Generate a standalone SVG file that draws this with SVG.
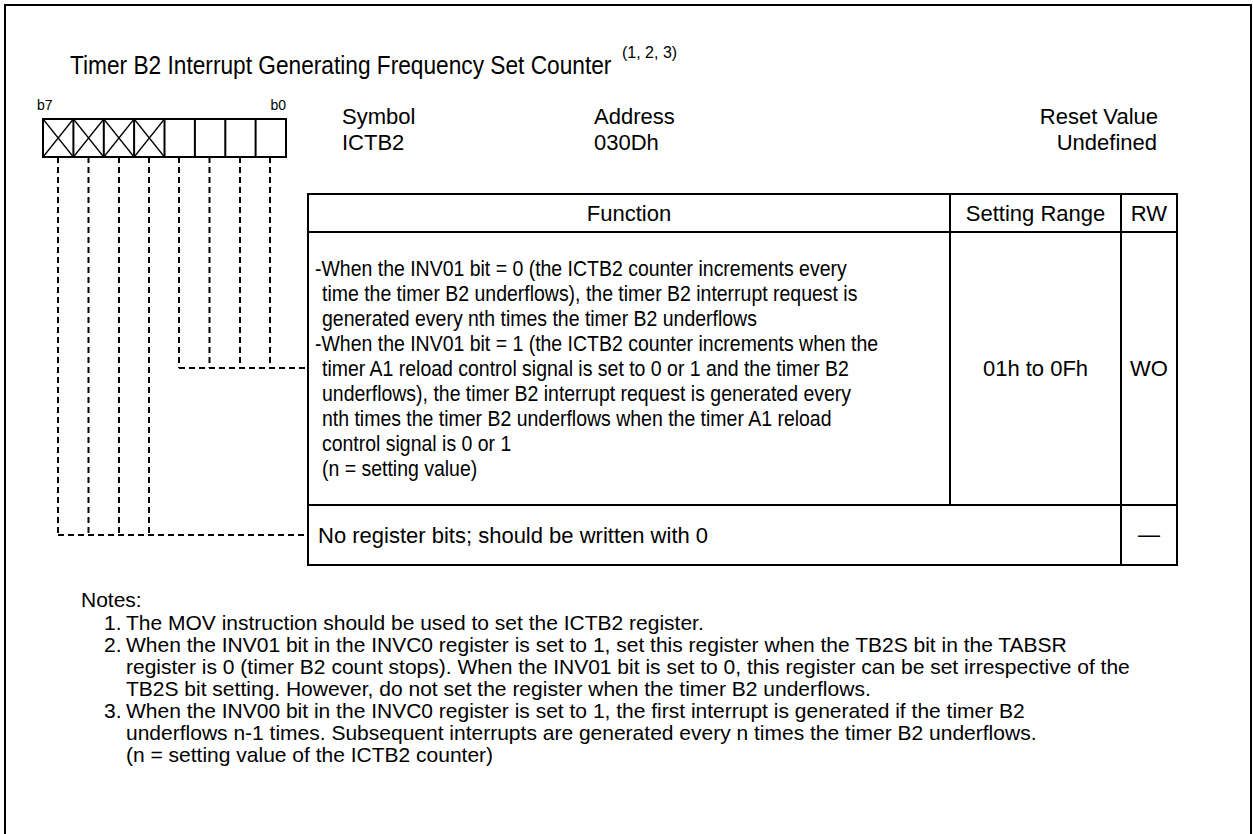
<svg xmlns="http://www.w3.org/2000/svg" width="1253" height="834" viewBox="0 0 1253 834">
<style>
text{font-family:"Liberation Sans",Arial,sans-serif;fill:#000}
.t{font-size:22px}
.n{font-size:21px}
.s{font-size:14px}
.ti{font-size:22.7px}
.m{text-anchor:middle}
.e{text-anchor:end}
.ln{stroke:#000;stroke-width:2;fill:none}
.d{stroke:#000;stroke-width:2;fill:none;stroke-dasharray:6 4}
</style>
<rect x="5" y="5" width="1246" height="840" fill="#fff" stroke="#000" stroke-width="2"/>
<g id="title">
<text class="ti" transform="translate(70 74) scale(1 1.14)" x="0" y="0">Timer B2 Interrupt Generating Frequency Set Counter</text>
<text x="622" y="58" style="font-size:16px">(1, 2, 3)</text>
</g>
<g id="bits">
<text class="s" x="37" y="110">b7</text>
<text class="s e" x="286" y="110">b0</text>
<rect class="ln" x="43" y="119" width="243" height="38"/>
<path class="ln" d="M73.4 119V157M103.8 119V157M134.1 119V157M164.5 119V157M194.9 119V157M225.3 119V157M255.6 119V157"/>
<path stroke="#000" stroke-width="1.3" fill="none" d="M43 119L73.4 157M73.4 119L43 157M73.4 119L103.8 157M103.8 119L73.4 157M103.8 119L134.1 157M134.1 119L103.8 157M134.1 119L164.5 157M164.5 119L134.1 157"/>
</g>
<g id="info">
<text class="t" x="342" y="124">Symbol</text>
<text class="t" x="342" y="150">ICTB2</text>
<text class="t" x="594" y="124">Address</text>
<text class="t" x="594" y="150">030Dh</text>
<text class="t e" x="1158" y="124">Reset Value</text>
<text class="t e" x="1157" y="150">Undefined</text>
</g>
<g id="connectors">
<path class="d" d="M179 157V368M209.5 157V368M240 157V368M270 157V368M179 368H308"/>
<path class="d" d="M58 157V535M88.5 157V535M119 157V535M149 157V535M58 535H308"/>
</g>
<g id="table">
<rect class="ln" x="308" y="194" width="869" height="371"/>
<path class="ln" d="M308 232H1177M308 505H1177M950 194V505M1121 194V565"/>
<text class="t m" x="629" y="221">Function</text>
<text class="t m" x="1035.5" y="221">Setting Range</text>
<text class="t m" x="1149" y="221">RW</text>
</g>
<g id="row-function">
<g transform="translate(315 0) scale(0.885 1)">
<text class="t" x="0" y="276">-When the INV01 bit = 0 (the ICTB2 counter increments every</text>
<text class="t" x="7.9" y="301">time the timer B2 underflows), the timer B2 interrupt request is</text>
<text class="t" x="7.9" y="326">generated every nth times the timer B2 underflows</text>
<text class="t" x="0" y="351">-When the INV01 bit = 1 (the ICTB2 counter increments when the</text>
<text class="t" x="7.9" y="376">timer A1 reload control signal is set to 0 or 1 and the timer B2</text>
<text class="t" x="7.9" y="401">underflows), the timer B2 interrupt request is generated every</text>
<text class="t" x="7.9" y="426">nth times the timer B2 underflows when the timer A1 reload</text>
<text class="t" x="7.9" y="451">control signal is 0 or 1</text>
<text class="t" x="7.9" y="476">(n = setting value)</text>
</g>
<text class="t m" x="1035.5" y="376">01h to 0Fh</text>
<text class="t m" x="1149" y="376">WO</text>
</g>
<g id="row-reserved">
<text class="t" x="318" y="543">No register bits; should be written with 0</text>
<text class="t m" x="1149" y="542">—</text>
</g>
<g id="notes">
<text class="n" x="81" y="607">Notes:</text>
<text class="n" x="104" y="630">1.</text>
<text class="n" x="126" y="630">The MOV instruction should be used to set the ICTB2 register.</text>
<text class="n" x="104" y="652">2.</text>
<text class="n" x="126" y="652">When the INV01 bit in the INVC0 register is set to 1, set this register when the TB2S bit in the TABSR</text>
<text class="n" x="126" y="674">register is 0 (timer B2 count stops). When the INV01 bit is set to 0, this register can be set irrespective of the</text>
<text class="n" x="126" y="696">TB2S bit setting. However, do not set the register when the timer B2 underflows.</text>
<text class="n" x="104" y="718">3.</text>
<text class="n" x="126" y="718">When the INV00 bit in the INVC0 register is set to 1, the first interrupt is generated if the timer B2</text>
<text class="n" x="126" y="740">underflows n-1 times. Subsequent interrupts are generated every n times the timer B2 underflows.</text>
<text class="n" x="126" y="762">(n = setting value of the ICTB2 counter)</text>
</g>
</svg>
